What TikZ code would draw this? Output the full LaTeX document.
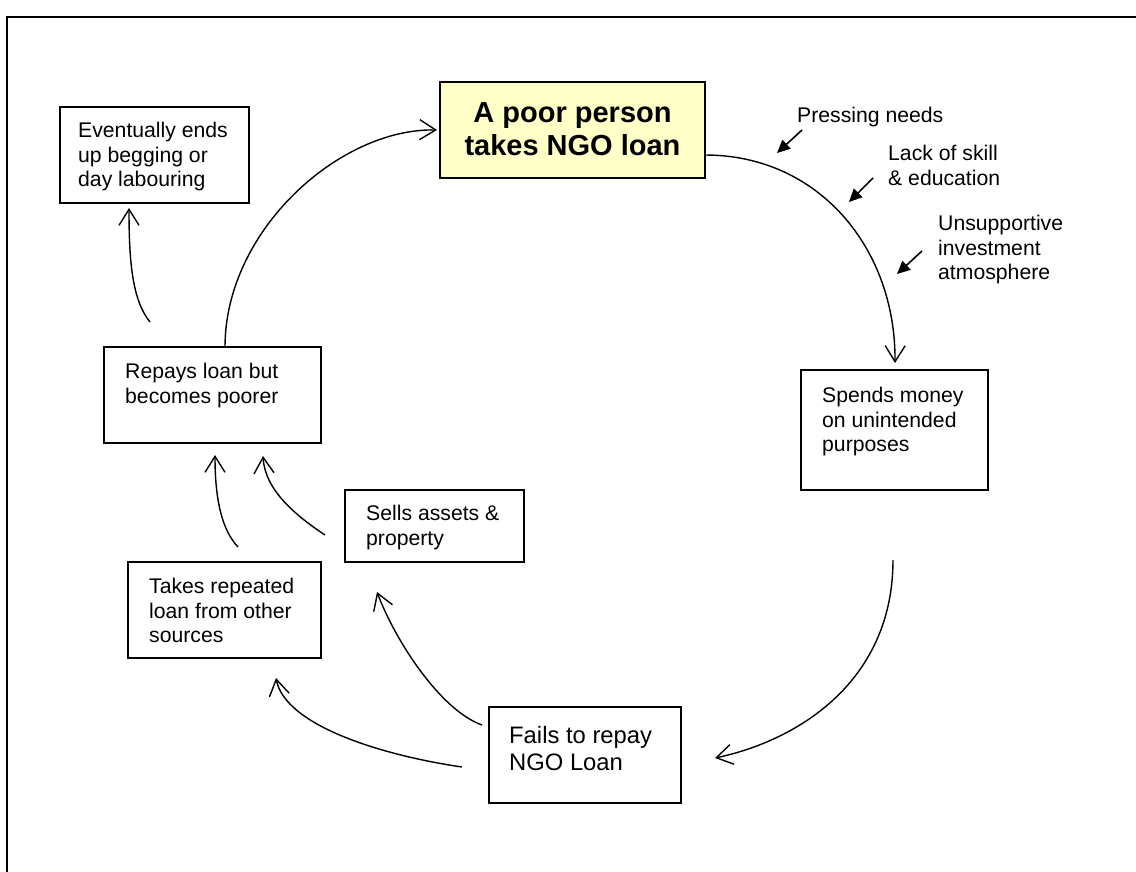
\documentclass[tikz,border=0pt]{standalone}
\usepackage{fontspec}
\setmainfont{Liberation Sans}
\usetikzlibrary{arrows.meta}
\definecolor{notepad}{RGB}{255,255,200}

\begin{document}
\begin{tikzpicture}[x=1pt,y=-1pt,
  cellbox/.style={draw, line width=1.6pt, anchor=north west, inner sep=0pt, outer sep=0pt},
  celltext/.style={anchor=north west, inner sep=0pt, align=left,
                   font=\fontsize{21.2}{24.5}\selectfont},
  titletext/.style={anchor=north, inner sep=0pt, align=center,
                   font=\bfseries\fontsize{29}{33}\selectfont},
  flow/.style={line width=1.4pt,
               -{Straight Barb[length=16pt,width=20pt,line width=1.4pt]}},
  cause/.style={line width=1.6pt, -{Triangle[length=13pt,width=12pt]}},
  frame/.style={line width=2pt}]
\useasboundingbox (0,0) rectangle (1136,871);

% page frame (only top and left sides fall inside the page)
\draw[frame] (1140,17) -- (7,17) -- (7,875);

% boxes of the cycle
\node[cellbox, minimum width=189pt, minimum height=96pt] (ends) at (60,107) {};
\node[celltext] (ends-t) at (78,122) {Eventually ends\\up begging or\\day labouring};

\node[cellbox, fill=notepad, minimum width=265pt, minimum height=96pt] (loan) at (440,82) {};
\node[titletext] (loan-t) at (572.5,102) {A poor person\\takes NGO loan};

\node[cellbox, minimum width=217pt, minimum height=96pt] (repays) at (104,347) {};
\node[celltext] (repays-t) at (125,363) {Repays loan but\\becomes poorer};

\node[cellbox, minimum width=179pt, minimum height=72pt] (sells) at (345,490) {};
\node[celltext] (sells-t) at (366,505) {Sells assets \&\\property};

\node[cellbox, minimum width=193pt, minimum height=96pt] (takes) at (128,562) {};
\node[celltext] (takes-t) at (149,578) {Takes repeated\\loan from other\\sources};

\node[cellbox, minimum width=187pt, minimum height=120pt] (spends) at (801,370) {};
\node[celltext] (spends-t) at (822,387) {Spends money\\on unintended\\purposes};

\node[cellbox, minimum width=192pt, minimum height=96pt] (fails) at (489,707) {};
\node[celltext, font=\fontsize{23.8}{27}\selectfont] (fails-t) at (509,726) {Fails to repay\\NGO Loan};

% contributing causes
\node[celltext] (needs) at (797,107) {Pressing needs};
\node[celltext] (skill) at (888,145) {Lack of skill\\\& education};
\node[celltext] (atmos) at (938,215) {Unsupportive\\investment\\atmosphere};

% free ends of the connectors
\coordinate (loan-in)    at ([xshift=-3pt]loan.west);
\coordinate (loan-out)   at ([yshift=-25pt]loan.east);
\coordinate (repays-up)  at ([xshift=12.5pt]repays.north);
\coordinate (spends-in)  at (895,363);
\coordinate (spends-out) at (893,560);
\coordinate (fails-in)   at (715,758);
\coordinate (fails-a)    at (482,725);
\coordinate (fails-b)    at (462,767);
\coordinate (sells-in)   at (377,592);
\coordinate (takes-in)   at (276,678);
\coordinate (sells-out)  at (325,535);
\coordinate (takes-out)  at (238,547);
\coordinate (repays-in1) at (263,456);
\coordinate (repays-in2) at (215,455);
\coordinate (repays-out) at (150,322);
\coordinate (ends-in)    at (129,208);

\coordinate (needs-a) at (802,130);  \coordinate (needs-b) at (777,153);
\coordinate (skill-a) at (873,178);  \coordinate (skill-b) at (849,202);
\coordinate (atmos-a) at (922,251);  \coordinate (atmos-b) at (897,274);

% the cycle
\draw[flow] (repays-up) .. controls (225,230) and (340,128) .. (loan-in);
\draw[flow] (loan-out) .. controls (820,155) and (896,250) .. (spends-in);
\draw[flow] (spends-out) .. controls (893,680) and (800,740) .. (fails-in);
\draw[flow] (fails-a) .. controls (440,710) and (395,640) .. (sells-in);
\draw[flow] (fails-b) .. controls (380,755) and (285,725) .. (takes-in);
\draw[flow] (sells-out) .. controls (295,515) and (265,490) .. (repays-in1);
\draw[flow] (takes-out) .. controls (222,530) and (215,500) .. (repays-in2);
\draw[flow] (repays-out) .. controls (132,300) and (129,260) .. (ends-in);

% cause arrows
\draw[cause] (needs-a) -- (needs-b);
\draw[cause] (skill-a) -- (skill-b);
\draw[cause] (atmos-a) -- (atmos-b);
\end{tikzpicture}
\end{document}
